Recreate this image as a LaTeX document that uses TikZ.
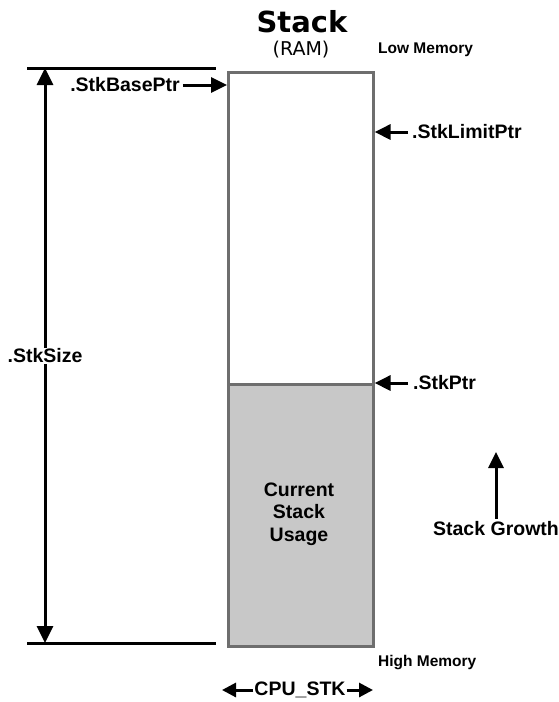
\documentclass[tikz,border=0pt]{standalone}
\usepackage{fontspec}
\setmainfont{Liberation Sans}
\newfontfamily\titlefont{DejaVu Sans}
\usetikzlibrary{arrows.meta}
\definecolor{boxline}{HTML}{6E6E6E}
\definecolor{boxfill}{HTML}{C8C8C8}
\tikzset{
  lbl/.style={font=\fontsize{19.5}{22}\selectfont\bfseries, inner sep=3pt},
  memlbl/.style={font=\fontsize{15.5}{18}\selectfont\bfseries, inner sep=0pt, anchor=west},
  arr/.style={line width=3pt, -{Triangle[length=16pt,width=15pt]}},
  sarr/.style={line width=3pt, -{Triangle[length=14pt,width=14pt]}},
  darr/.style={line width=3pt, {Triangle[length=17pt,width=16pt]}-{Triangle[length=17pt,width=16pt]}},
  rule/.style={line width=3pt},
  stackbox/.style={draw=boxline, line width=2.6pt, anchor=north west, inner sep=0pt, minimum width=145pt}
}
\begin{document}
\begin{tikzpicture}[x=1pt,y=-1pt]
\useasboundingbox (0,0) rectangle (559,702);
% title
\node[font=\titlefont\fontsize{29}{32}\selectfont\bfseries, inner sep=0pt] (title) at (302,22) {Stack};
\node[font=\titlefont\fontsize{19}{22}\selectfont, inner sep=0pt] (ram) at (301,50) {(RAM)};
% stack boxes
\node[stackbox, fill=white, minimum height=312pt] (upper) at (227,71) {};
\node[stackbox, fill=boxfill, minimum height=262pt] (lower) at (227,383) {};
\node[lbl, align=center, font=\fontsize{19.5}{22.5}\selectfont\bfseries] (usage) at (299,514) {Current\\Stack\\Usage};
% memory labels
\node[memlbl] (low) at (378,50) {Low Memory};
\node[memlbl] (high) at (378,663) {High Memory};
% size rules
\coordinate (tl) at (27,68);
\coordinate (tr) at (216,68);
\coordinate (bl) at (27,643);
\coordinate (br) at (216,643);
\draw[rule] (tl) -- (tr);
\draw[rule] (bl) -- (br);
\coordinate (stop) at (45,68);
\coordinate (sbot) at (45,643);
\draw[darr] (stop) -- (sbot);
\node[lbl, fill=white, inner sep=1pt] (size) at (45,356) {.StkSize};
% pointers
\node[lbl] (base) at (125,85) {.StkBasePtr};
\draw[arr] (base.east) -- (upper.west |- base.east);
\node[lbl, anchor=west] (limit) at (409,132) {.StkLimitPtr};
\draw[arr] ([xshift=-1pt]limit.west) -- (upper.east |- limit.west);
\node[lbl, anchor=west] (sp) at (410,383) {.StkPtr};
\draw[arr] ([xshift=-2pt]sp.west) -- (lower.north east);
% growth
\node[lbl] (growth) at (496,529) {Stack Growth};
\coordinate (gtip) at (496,452);
\draw[arr] (growth.north) -- (gtip);
% cpu stk
\node[lbl, inner sep=1pt] (cpu) at (300,690) {CPU\_STK};
\coordinate (cl) at (222,690);
\coordinate (cr) at (373,690);
\draw[sarr] (cpu.west) -- (cl);
\draw[sarr] (cpu.east) -- (cr);
\end{tikzpicture}
\end{document}
